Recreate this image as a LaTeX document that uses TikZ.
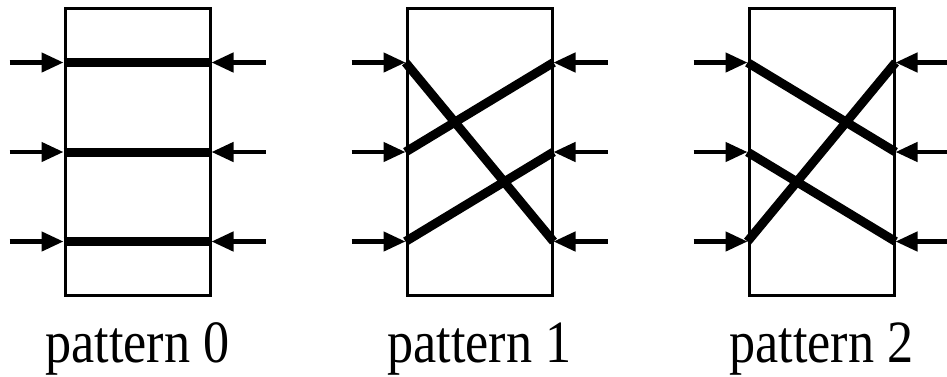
\documentclass[tikz,border=0pt]{standalone}
\usepackage{fontspec}
\setmainfont{Liberation Serif}
\usetikzlibrary{arrows.meta,calc}

\begin{document}
\begin{tikzpicture}[x=1pt,y=-1pt,
   box/.style={draw,line width=3pt,minimum width=145pt,minimum height=287pt,inner sep=0pt},
   wire/.style={line width=9pt},
   feed/.style={-{Triangle[length=22pt,width=19pt]},line width=4.5pt},
   lbl/.style={anchor=base,inner sep=0pt,font=\fontsize{60}{66}\selectfont}]
  \useasboundingbox (0,0) rectangle (947,376);
  \foreach \i/\cx in {0/137.5,1/479.5,2/821.5}{
    \node[box] (b\i) at (\cx,152) {};
    \node[lbl] (t\i) at (\cx,362) {\scalebox{0.87}[1]{pattern \i}};
    \foreach \r/\dy in {1/89.5,2/0,3/-89.5}{
      \coordinate (b\i-l\r) at ([yshift=\dy pt]b\i.west);
      \coordinate (b\i-r\r) at ([yshift=\dy pt]b\i.east);
      \coordinate (s\i-l\r) at ([xshift=-54pt]b\i-l\r);
      \coordinate (s\i-r\r) at ([xshift=54pt]b\i-r\r);
      \draw[feed] (s\i-l\r) -- (b\i-l\r);
      \draw[feed] (s\i-r\r) -- (b\i-r\r);
    }
  }
  % pattern 0
  \draw[wire] (b0-l1) -- (b0-r1);
  \draw[wire] (b0-l2) -- (b0-r2);
  \draw[wire] (b0-l3) -- (b0-r3);
  % pattern 1
  \draw[wire] (b1-l1) -- (b1-r3);
  \draw[wire] (b1-l2) -- (b1-r1);
  \draw[wire] (b1-l3) -- (b1-r2);
  % pattern 2
  \draw[wire] (b2-l1) -- (b2-r2);
  \draw[wire] (b2-l2) -- (b2-r3);
  \draw[wire] (b2-l3) -- (b2-r1);
\end{tikzpicture}
\end{document}
